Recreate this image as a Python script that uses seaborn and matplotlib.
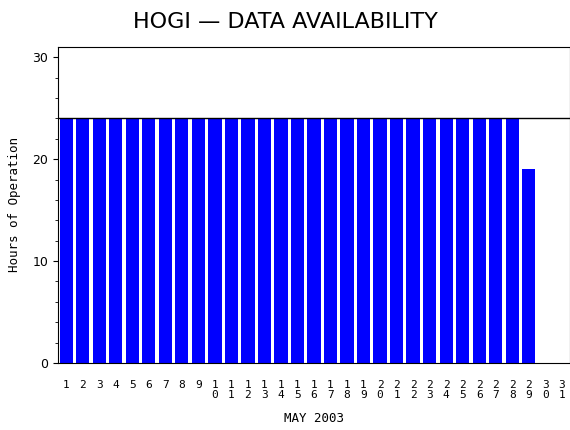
import matplotlib
matplotlib.use("Agg")
import matplotlib.pyplot as plt
import seaborn as sns
import pandas as pd
from matplotlib.ticker import MultipleLocator

days = list(range(1, 32))
hours = [24]*28 + [19, 0, 0]
day_labels = ["\n".join(str(d)) for d in days]

sns.set_style("ticks")
plt.rcParams['font.family'] = ['DejaVu Sans']
plt.rcParams['text.color'] = 'black'
plt.rcParams['axes.labelcolor'] = 'black'
plt.rcParams['xtick.color'] = 'black'
plt.rcParams['ytick.color'] = 'black'
fig = plt.figure(figsize=(5.7, 4.3), dpi=100)
ax = fig.add_axes([58/570, 1-363/430, 512/570, (363-47)/430])
df = pd.DataFrame({"day": days, "hours": hours})
sns.barplot(data=df, x="day", y="hours", color="#0000ff", saturation=1, width=0.8,
            linewidth=0, edgecolor="none", ax=ax)
ax.set_xlim(-0.5, 30.5)
ax.set_ylim(0, 31)
ax.axhline(24, color="black", lw=1)
ax.set_yticks([0, 10, 20, 30])
ax.yaxis.set_minor_locator(MultipleLocator(2))
ax.set_xticks(range(31))
ax.set_xticklabels(day_labels, fontsize=8, family="DejaVu Sans Mono", linespacing=1.1, va="top")
ax.tick_params(axis="x", length=0, pad=12)
ax.tick_params(axis="y", labelsize=9)
for s in ax.spines.values():
    s.set_color("black"); s.set_linewidth(0.8)
ax.set_xlabel("MAY 2003", family="DejaVu Sans Mono", fontsize=9, labelpad=8)
ax.set_ylabel("Hours of Operation", family="DejaVu Sans Mono", fontsize=9, labelpad=8)
fig.text(0.5, 0.95, "HOGI \u2014 DATA AVAILABILITY", ha="center", va="center", fontsize=16, color="black")
fig.savefig("out.png", dpi=100)
